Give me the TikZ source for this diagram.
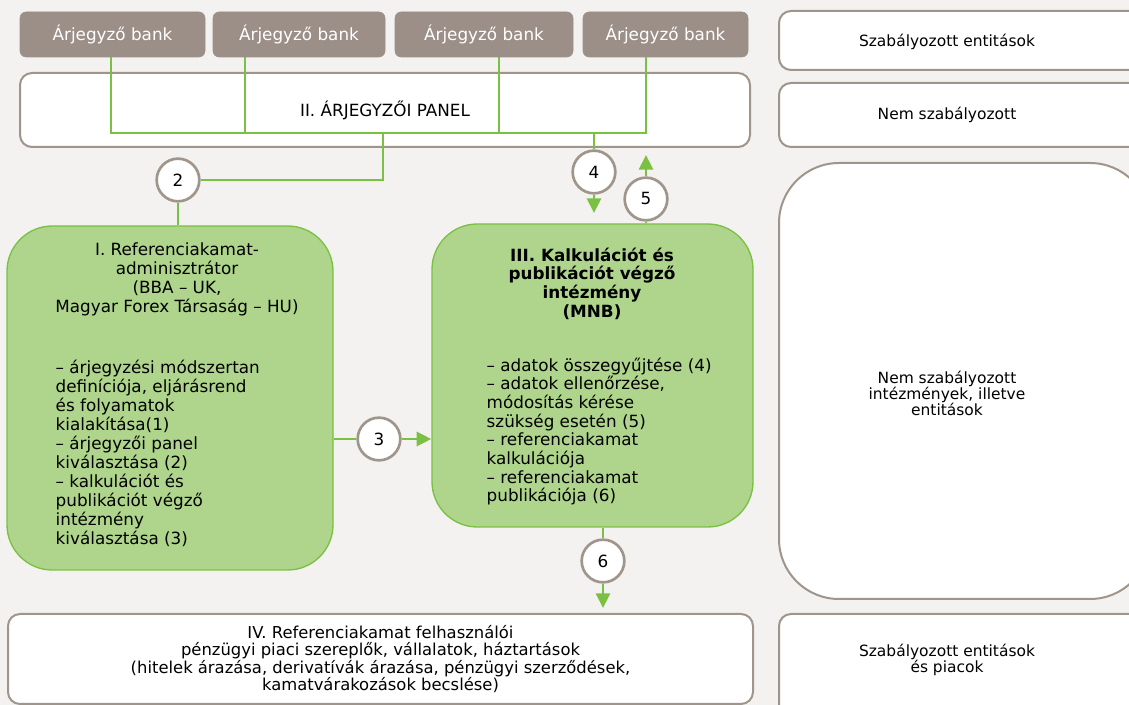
\documentclass[tikz,border=0pt]{standalone}
\usepackage{fontspec}
\setmainfont{DejaVu Sans}
\usetikzlibrary{arrows.meta,positioning}

\definecolor{bgcol}{HTML}{F3F2F0}
\definecolor{bankcol}{HTML}{9B8F88}
\definecolor{framecol}{HTML}{A0958A}
\definecolor{greenfill}{HTML}{AED58B}
\definecolor{greenline}{HTML}{7AC143}

\begin{document}
\begin{tikzpicture}[
			x=0.75pt, y=-0.75pt,
			every node/.style={font=\fontsize{12.6}{14.25}\selectfont},
			bankbox/.style={draw=bankcol, fill=bankcol, rounded corners=4.5pt, text=white, minimum height=33.75pt, inner sep=0pt},
			whitebox/.style={draw=framecol, fill=white, line width=1.5pt, rounded corners=9pt, inner sep=0pt},
			greenbox/.style={draw=greenline, fill=greenfill, line width=1pt, rounded corners=34pt, inner sep=0pt},
			numcircle/.style={circle, draw=framecol, fill=white, line width=2pt, minimum size=32pt, inner sep=0pt},
			sidetext/.style={align=center, font=\fontsize{11.6}{12}\selectfont},
			link/.style={draw=greenline, line width=2.2pt},
			arrow/.style={link, -{Triangle[width=10.5pt,length=11pt]}},
			line join=miter
			]
			\useasboundingbox[fill=bgcol] (0,0) rectangle (1129,705);
			
			% Banks
			\node[bankbox, minimum width=138.75pt] (bank1) at (112.5,34.5) {Árjegyző bank};
			\node[bankbox, minimum width=129pt] (bank2) at (299,34.5) {Árjegyző bank};
			\node[bankbox, minimum width=133.5pt] (bank3) at (484,34.5) {Árjegyző bank};
			\node[bankbox, minimum width=123.75pt] (bank4) at (665.5,34.5) {Árjegyző bank};
			
			% Panel and users
			\node[whitebox, minimum width=547.5pt, minimum height=55.5pt] (panel) at (385,110) {II. ÁRJEGYZŐI PANEL};
			\node[whitebox, minimum width=558.75pt, minimum height=67.5pt, align=center,
				font=\fontsize{12.3}{13}\selectfont] (users) at (380.5,659)
				{IV. Referenciakamat felhasználói\\pénzügyi piaci szereplők, vállalatok, háztartások\\(hitelek árazása, derivatívák árazása, pénzügyi szerződések,\\kamatvárakozások becslése)};
			
			% Green boxes
			\node[greenbox, minimum width=244.5pt, minimum height=258pt] (admin) at (170,398) {};
			\node[greenbox, minimum width=240.75pt, minimum height=227.25pt] (calc) at (592.5,375.5) {};
			\node[anchor=north, align=center] (admintitle) at (177,238)
				{I. Referenciakamat-\\adminisztrátor\\(BBA – UK,\\Magyar Forex Társaság – HU)};
			\node[anchor=north west, align=left] (admintasks) at (51,355)
				{– árjegyzési módszertan\\definíciója, eljárásrend\\és folyamatok\\kialakítása(1)\\– árjegyzői panel\\kiválasztása (2)\\– kalkulációt és\\publikációt végző\\intézmény\\kiválasztása (3)};
			\node[anchor=north, align=center, font=\fontsize{12.6}{14}\selectfont\bfseries] (calctitle) at (592,243)
				{III. Kalkulációt és\\publikációt végző\\intézmény\\(MNB)};
			\node[anchor=north west, align=left, font=\fontsize{12.6}{14}\selectfont] (calctasks) at (482,353)
				{– adatok összegyűjtése (4)\\– adatok ellenőrzése,\\módosítás kérése\\szükség esetén (5)\\– referenciakamat\\kalkulációja\\– referenciakamat\\publikációja (6)};
			
			% Right column
			\node[whitebox, minimum width=278.25pt, minimum height=44.25pt] (reg1) at (964.5,40.5) {};
			\node[whitebox, minimum width=278.25pt, minimum height=48pt] (unreg) at (964.5,115) {};
			\node[whitebox, rounded corners=45pt, minimum width=278.25pt, minimum height=327pt] (unregbig) at (964.5,381) {};
			\node[whitebox, minimum width=278.25pt, minimum height=79.5pt] (reg2) at (964.5,667) {};
			\node[sidetext] (reg1txt) at (947,42) {Szabályozott entitások};
			\node[sidetext] (unregtxt) at (947,115) {Nem szabályozott};
			\node[sidetext] (unregbigtxt) at (947,393) {Nem szabályozott\\intézmények, illetve\\entitások};
			\node[sidetext] (reg2txt) at (947,660) {Szabályozott entitások\\és piacok};
			
			% Panel lines
			\coordinate (j1) at (111,133);
			\coordinate (j2) at (245,133);
			\coordinate (j3) at (499,133);
			\coordinate (j4) at (646,133);
			\coordinate (k2) at (383,133);
			\draw[link] (j1 |- bank1.south) -- (j1) -- (j4) -- (j4 |- bank4.south);
			\draw[link] (j2 |- bank2.south) -- (j2);
			\draw[link] (j3 |- bank3.south) -- (j3);
			
			% Numbered steps
			\node[numcircle] (c2) at (178,180) {2};
			\node[numcircle] (c3) at (379,439) {3};
			\node[numcircle] (c4) at (594,172) {4};
			\node[numcircle] (c5) at (646,199) {5};
			\node[numcircle] (c6) at (603,561) {6};
			\coordinate (a4) at (594,213);
			\coordinate (a5) at (646,155);
			\coordinate (a6) at (603,608);
			
			\draw[link] (k2) |- (c2);
			\draw[link] (c2) -- (c2 |- admin.north);
			\draw[link] (c4 |- j4) -- (c4);
			\draw[arrow] (c4) -- (a4);
			\draw[link] (c5 |- calc.north) -- (c5);
			\draw[arrow] (c5) -- (a5);
			\draw[link] (admin.east |- c3) -- (c3);
			\draw[arrow] (c3) -- (calc.west |- c3);
			\draw[link] (calc.south -| c6) -- (c6);
			\draw[arrow] (c6) -- (a6);
		\end{tikzpicture}
\end{document}
